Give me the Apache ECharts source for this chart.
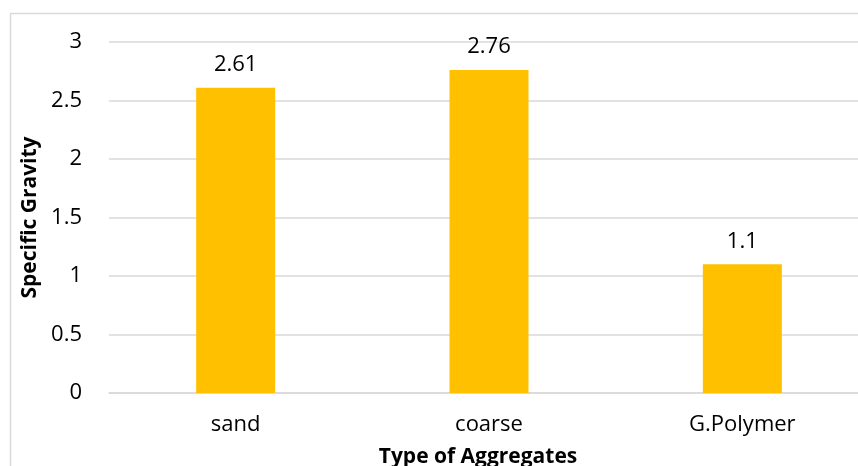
<!DOCTYPE html>
<html>
<head>
<meta charset="utf-8">
<script src="https://cdn.jsdelivr.net/npm/echarts@6/dist/echarts.min.js"></script>
<style>
html,body{margin:0;padding:0;background:#fff;}
#chart{width:858px;height:466px;}
</style>
</head>
<body>
<div id="chart"></div>
<script>
// Specific gravity of each aggregate type
const categories = ['sand', 'coarse', 'G.Polymer'];
const specificGravity = [2.61, 2.76, 1.1];
const yTicks = [0, 0.5, 1, 1.5, 2, 2.5, 3];

const fontFamily = '"Open Sans", "Liberation Sans", sans-serif';
const chart = echarts.init(document.getElementById('chart'));

chart.setOption({
  animation: false,
  graphic: [{
    type: 'rect',
    shape: { x: 10.5, y: 13.5, width: 900, height: 500 },
    style: { fill: 'none', stroke: '#d9d9d9', lineWidth: 1.5 },
    silent: true,
    z: -1
  }],
  grid: { left: 109, right: -11, top: 42, bottom: 73, outerBoundsMode: 'none', containLabel: false },
  xAxis: {
    type: 'category',
    data: categories,
    axisLine: { show: true, lineStyle: { color: '#d9d9d9', width: 1.5 } },
    axisTick: { show: false },
    axisLabel: { color: '#000', fontSize: 22, fontFamily, margin: 21 },
    name: 'Type of Aggregates',
    nameLocation: 'middle',
    nameGap: 54,
    nameTextStyle: { color: '#000', fontSize: 21, fontWeight: 'bold', fontFamily, padding: [0, 0, 0, -22] }
  },
  yAxis: {
    type: 'value',
    min: yTicks[0],
    max: yTicks[yTicks.length - 1],
    interval: 0.5,
    axisLine: { show: false },
    axisTick: { show: false },
    splitLine: { lineStyle: { color: '#d9d9d9', width: 1.5 } },
    axisLabel: { color: '#000', fontSize: 22, fontFamily, margin: 27 },
    name: 'Specific Gravity',
    nameLocation: 'middle',
    nameGap: 66,
    nameTextStyle: { color: '#000', fontSize: 21, fontWeight: 'bold', fontFamily }
  },
  series: [{
    type: 'bar',
    data: specificGravity,
    barWidth: 79,
    itemStyle: { color: '#FFC000' },
    label: {
      show: true,
      position: 'top',
      distance: 12,
      color: '#000',
      fontSize: 22,
      fontFamily
    }
  }]
});
</script>
</body>
</html>
